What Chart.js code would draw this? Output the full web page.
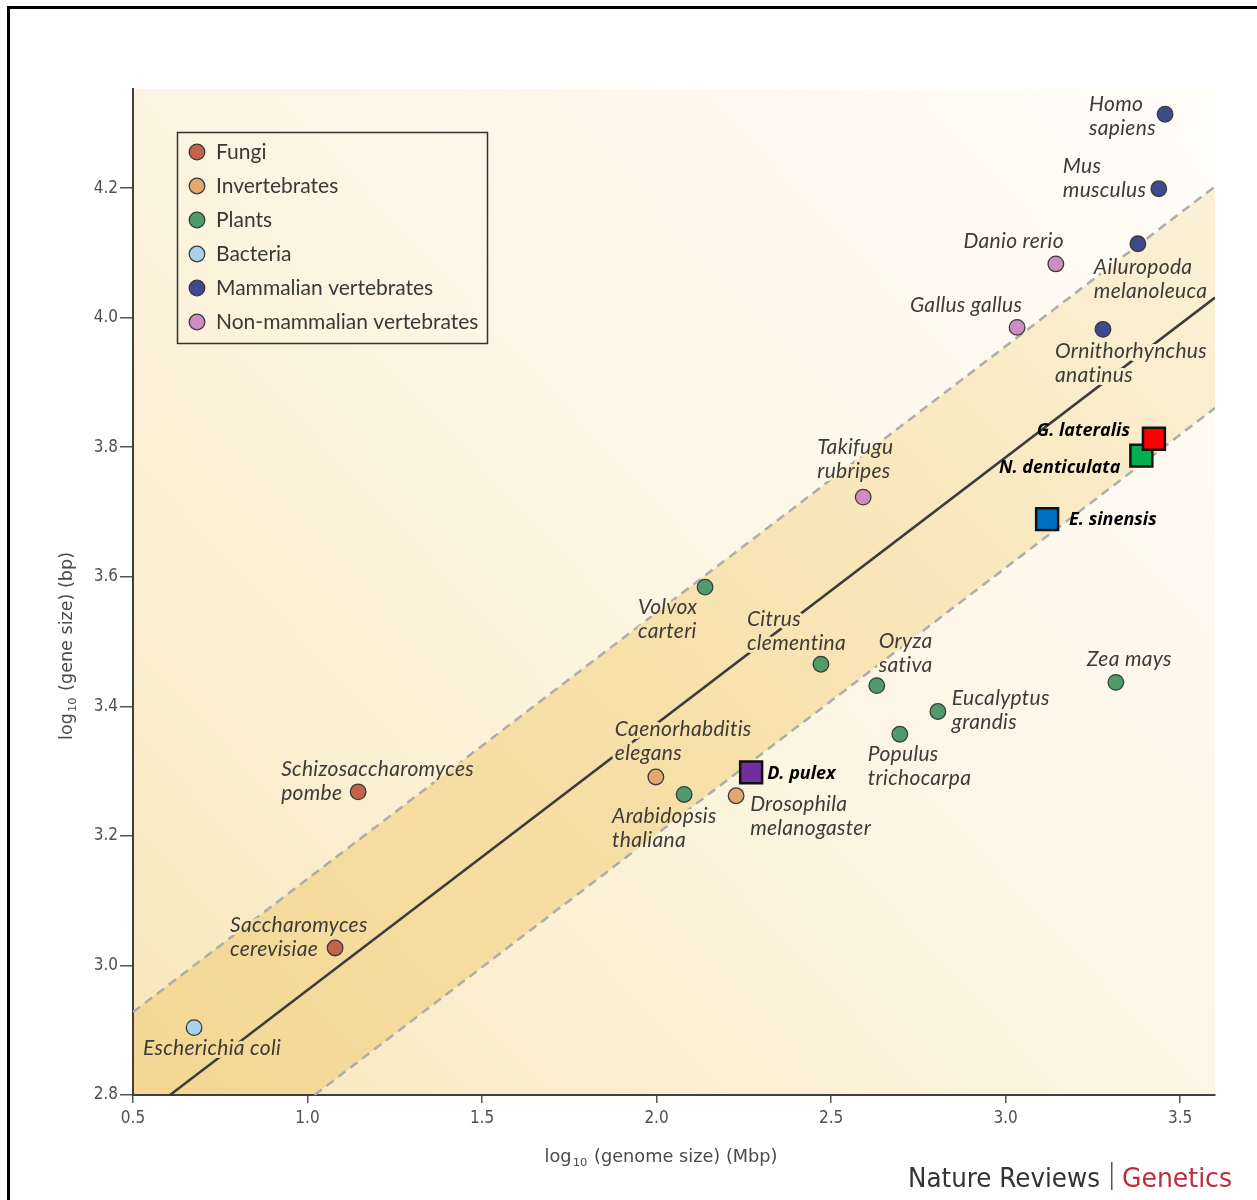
<!DOCTYPE html>
<html>
<head>
<meta charset="utf-8">
<title>Gene size versus genome size</title>
<script src="https://cdn.jsdelivr.net/npm/chart.js@4.4.1/dist/chart.umd.min.js"></script>
<style>
  html, body { margin: 0; padding: 0; background: #fff; }
  #wrap { position: relative; width: 1257px; height: 1200px; overflow: hidden; }
  #wrap canvas { position: absolute; left: 0; top: 0; }
  #frame { position: absolute; left: 7px; top: 6px; width: 1400px; height: 1400px;
           border-top: 3px solid #000; border-left: 3px solid #000; pointer-events: none; }
</style>
</head>
<body>
<div id="wrap">
  <canvas id="chart" width="1257" height="1200"></canvas>
  <div id="frame"></div>
</div>
<script>
// ---- categories ----
const groups = ['Fungi', 'Invertebrates', 'Plants', 'Bacteria', 'Mammalian vertebrates', 'Non-mammalian vertebrates'];
const groupColors = ['#c5624b', '#e3a870', '#4f9b6c', '#a9d1ec', '#3e4a8b', '#cf8cc3'];

// ---- species (log10 genome size in Mbp, log10 gene size in bp) ----
const speciesNames = [
  'Homo\nsapiens', 'Mus\nmusculus', 'Ailuropoda\nmelanoleuca', 'Ornithorhynchus\nanatinus',
  'Danio rerio', 'Gallus gallus', 'Takifugu\nrubripes',
  'Volvox\ncarteri', 'Citrus\nclementina', 'Oryza\nsativa', 'Eucalyptus\ngrandis',
  'Populus\ntrichocarpa', 'Zea mays', 'Arabidopsis\nthaliana',
  'Caenorhabditis\nelegans', 'Drosophila\nmelanogaster',
  'Schizosaccharomyces\npombe', 'Saccharomyces\ncerevisiae', 'Escherichia coli'
];
const speciesGroup = [4, 4, 4, 4, 5, 5, 5, 2, 2, 2, 2, 2, 2, 2, 1, 1, 0, 0, 3];
const genomeSize = [3.457, 3.439, 3.379, 3.279, 3.144, 3.033, 2.592, 2.139, 2.471, 2.631, 2.806, 2.697, 3.316, 2.079, 1.998, 2.228, 1.145, 1.079, 0.675];
const geneSize   = [4.314, 4.199, 4.114, 3.982, 4.083, 3.985, 3.723, 3.584, 3.465, 3.432, 3.392, 3.357, 3.437, 3.264, 3.291, 3.262, 3.268, 3.027, 2.904];

// ---- highlighted genomes ----
const highlightNames  = ['D. pulex', 'E. sinensis', 'N. denticulata', 'G. lateralis'];
const highlightX      = [2.271, 3.119, 3.389, 3.425];
const highlightY      = [3.298, 3.689, 3.787, 3.813];
const highlightColors = ['#7030a0', '#0070c0', '#00b050', '#ff0000'];

// ---- trend line and band limits ----
const fitX   = [0.606, 3.6];
const fitY   = [2.8, 4.031];
const upperX = [0.5, 3.6];
const upperY = [2.928, 4.2025];
const lowerX = [1.020, 3.6];
const lowerY = [2.8, 3.8605];

// ---- axes ----
const xTicks = [0.5, 1.0, 1.5, 2.0, 2.5, 3.0, 3.5];
const yTicks = [2.8, 3.0, 3.2, 3.4, 3.6, 3.8, 4.0, 4.2];
const xRange = [0.5, 3.6];
const yRange = [2.8, 4.353];

// label placement around each point: [dx, dy, align]
const speciesLabelLayout = [
  [-76, -10, 'left'], [-96, -23, 'left'], [-44, 23, 'left'], [-48, 22, 'left'],
  [8, -23, 'right'], [5, -22, 'right'], [-46, -50, 'left'],
  [-67, 20, 'left'], [-74, -45, 'left'], [2, -44, 'left'], [14, -13, 'left'],
  [-32, 20, 'left'], [-29, -23, 'left'], [-72, 22, 'left'],
  [-41, -48, 'left'], [14, 9, 'left'],
  [-77, -23, 'left'], [-105, -23, 'left'], [-51, 21, 'left']
];
const highlightLabelLayout = [
  [16, 1, 'left'], [22, 1, 'left'], [-21, 12, 'right'], [-24, -8, 'right']
];

const NARROW = '"Liberation Sans Narrow", "DejaVu Sans Condensed", "Roboto Condensed", sans-serif';
let backdropCanvas = null;

// cream background with the shaded band between the two dashed limits
const backdropPlugin = {
  id: 'backdrop',
  beforeDraw(chart) {
    const { ctx, chartArea: a, scales: { x, y } } = chart;
    ctx.save();
    ctx.fillStyle = '#ffffff';
    ctx.fillRect(0, 0, chart.width, chart.height);

    const g = ctx.createLinearGradient(a.left, a.bottom, a.right, a.top);
    g.addColorStop(0, '#f8e6b8');
    g.addColorStop(0.28, '#fcf0d4');
    g.addColorStop(0.55, '#fdf6e6');
    g.addColorStop(1, '#fffdf8');
    ctx.fillStyle = g;
    ctx.fillRect(a.left, a.top, a.right - a.left, a.bottom - a.top);

    ctx.beginPath();
    ctx.moveTo(x.getPixelForValue(upperX[0]), y.getPixelForValue(upperY[0]));
    ctx.lineTo(x.getPixelForValue(upperX[1]), y.getPixelForValue(upperY[1]));
    ctx.lineTo(x.getPixelForValue(lowerX[1]), y.getPixelForValue(lowerY[1]));
    ctx.lineTo(x.getPixelForValue(lowerX[0]), y.getPixelForValue(lowerY[0]));
    ctx.lineTo(a.left, a.bottom);
    ctx.closePath();
    const b = ctx.createLinearGradient(a.left, a.bottom, a.right, a.top);
    b.addColorStop(0, '#f3d793');
    b.addColorStop(0.45, '#f7e1ab');
    b.addColorStop(0.85, '#fbeecf');
    b.addColorStop(1, '#fcf2da');
    ctx.fillStyle = b;
    ctx.fill();
    ctx.restore();

    // keep a copy of the plain backdrop for the text knock-outs
    backdropCanvas = document.createElement('canvas');
    backdropCanvas.width = chart.canvas.width;
    backdropCanvas.height = chart.canvas.height;
    backdropCanvas.getContext('2d').drawImage(chart.canvas, 0, 0);
  }
};

function drawLabel(ctx, text, x, y, align, halo) {
  const lines = text.split('\n');
  ctx.textAlign = align;
  ctx.textBaseline = 'middle';
  lines.forEach((ln, i) => {
    const ly = y + i * 24;
    if (halo && backdropCanvas) {
      ctx.lineWidth = 6;
      ctx.lineJoin = 'round';
      ctx.strokeStyle = ctx.createPattern(backdropCanvas, 'no-repeat');
      ctx.strokeText(ln, x, ly);
    }
    ctx.fillText(ln, x, ly);
  });
}

// species names sit above the trend lines but beneath the markers
const speciesLabelPlugin = {
  id: 'speciesLabels',
  afterDatasetDraw(chart, args) {
    if (chart.data.datasets[args.index].order !== 10) return;
    const { ctx, scales: { x, y } } = chart;
    ctx.save();
    ctx.font = 'italic 21px Lato, "Noto Sans", sans-serif';
    ctx.letterSpacing = '0.3px';
    ctx.fillStyle = '#3d3b38';
    speciesNames.forEach((name, i) => {
      const [dx, dy, align] = speciesLabelLayout[i];
      drawLabel(ctx, name, x.getPixelForValue(genomeSize[i]) + dx, y.getPixelForValue(geneSize[i]) + dy, align, true);
    });
    ctx.restore();
  },
  afterDatasetsDraw(chart) {
    const { ctx, scales: { x, y } } = chart;
    ctx.save();
    ctx.font = 'italic bold 18px "Open Sans", "Noto Sans", sans-serif';
    ctx.fillStyle = '#000';
    highlightNames.forEach((name, i) => {
      const [dx, dy, align] = highlightLabelLayout[i];
      drawLabel(ctx, name, x.getPixelForValue(highlightX[i]) + dx, y.getPixelForValue(highlightY[i]) + dy, align, false);
    });
    ctx.restore();
  }
};

function drawLogTitle(ctx, rest, targetW) {
  const font = '17px ' + NARROW;
  const sub = '11px ' + NARROW;
  ctx.font = font; const w1 = ctx.measureText('log').width;
  ctx.font = sub;  const w2 = ctx.measureText('10').width + 2;
  ctx.font = font; const w3 = ctx.measureText(rest).width;
  const total = w1 + w2 + w3;
  ctx.scale(targetW / total, 1);
  const x0 = -total / 2;
  ctx.textAlign = 'left';
  ctx.textBaseline = 'alphabetic';
  ctx.fillText('log', x0, 0);
  ctx.font = sub; ctx.fillText('10', x0 + w1 + 1, 4);
  ctx.font = font; ctx.fillText(rest, x0 + w1 + w2, 0);
}

function fitText(ctx, text, left, baseline, width) {
  const w = ctx.measureText(text).width;
  ctx.save();
  ctx.translate(left, baseline);
  ctx.scale(width / w, 1);
  ctx.textAlign = 'left';
  ctx.textBaseline = 'alphabetic';
  ctx.fillText(text, 0, 0);
  ctx.restore();
}

// legend box, axis titles and journal mark
const decorPlugin = {
  id: 'decor',
  afterDraw(chart) {
    const { ctx } = chart;
    ctx.save();
    // legend
    ctx.strokeStyle = '#333';
    ctx.lineWidth = 1.5;
    ctx.strokeRect(177.5, 132.5, 310, 211);
    ctx.font = '21px Lato, "Noto Sans", sans-serif';
    ctx.textAlign = 'left';
    ctx.textBaseline = 'middle';
    groups.forEach((g, i) => {
      const cy = 152 + i * 34;
      ctx.beginPath();
      ctx.arc(197, cy, 7.8, 0, Math.PI * 2);
      ctx.fillStyle = groupColors[i];
      ctx.fill();
      ctx.lineWidth = 1.3;
      ctx.strokeStyle = '#3b3b3b';
      ctx.stroke();
      ctx.fillStyle = '#3a3836';
      ctx.fillText(g, 216, cy);
    });

    // axis titles
    ctx.fillStyle = '#4a4a4a';
    ctx.save();
    ctx.translate(661, 1162);
    drawLogTitle(ctx, ' (genome size) (Mbp)', 233);
    ctx.restore();
    ctx.save();
    ctx.translate(72, 646);
    ctx.rotate(-Math.PI / 2);
    drawLogTitle(ctx, ' (gene size) (bp)', 188);
    ctx.restore();

    // journal mark
    ctx.font = '27px ' + NARROW;
    ctx.fillStyle = '#333';
    fitText(ctx, 'Nature Reviews', 908, 1187, 192);
    ctx.fillStyle = '#555';
    ctx.fillRect(1111, 1162, 1.5, 28);
    ctx.fillStyle = '#c4283d';
    fitText(ctx, 'Genetics', 1122, 1187, 110);
    ctx.restore();
  }
};

const lineStyle = { pointRadius: 0, showLine: true, fill: false, borderCapStyle: 'butt' };

const datasets = [
  { type: 'scatter', label: 'upper limit', order: 30, data: upperX.map((v, i) => ({ x: v, y: upperY[i] })),
    borderColor: '#adadab', borderWidth: 2.5, borderDash: [9, 6], ...lineStyle },
  { type: 'scatter', label: 'trend', order: 20, data: fitX.map((v, i) => ({ x: v, y: fitY[i] })),
    borderColor: '#3c3c3c', borderWidth: 2.5, ...lineStyle },
  { type: 'scatter', label: 'lower limit', order: 10, data: lowerX.map((v, i) => ({ x: v, y: lowerY[i] })),
    borderColor: '#adadab', borderWidth: 2.5, borderDash: [9, 6], ...lineStyle }
];

groups.forEach((g, gi) => {
  datasets.push({
    type: 'scatter', label: g, order: 1,
    data: genomeSize.map((v, i) => ({ x: v, y: geneSize[i], g: speciesGroup[i] })).filter(p => p.g === gi),
    pointStyle: 'circle', pointRadius: 7.8, pointBorderWidth: 1.3,
    backgroundColor: groupColors[gi], borderColor: '#3b3b3b'
  });
});

datasets.push({
  type: 'scatter', label: 'highlighted', order: 0,
  data: highlightX.map((v, i) => ({ x: v, y: highlightY[i] })),
  pointStyle: 'rect', pointRadius: 15.5, pointBorderWidth: 2.5,
  backgroundColor: highlightColors, borderColor: '#111'
});

const tickFont = { family: NARROW, size: 17 };

new Chart(document.getElementById('chart'), {
  type: 'scatter',
  data: { datasets },
  options: {
    responsive: false,
    devicePixelRatio: 1,
    animation: false,
    events: [],
    layout: { padding: { top: 89, right: 42, left: 0, bottom: 0 } },
    plugins: { legend: { display: false }, tooltip: { enabled: false } },
    scales: {
      x: {
        type: 'linear', min: xRange[0], max: xRange[1],
        afterBuildTicks: s => { s.ticks = xTicks.map(v => ({ value: v })); },
        afterFit: s => { s.height = 105; },
        ticks: { callback: v => v.toFixed(1), font: tickFont, color: '#505050', padding: 5, maxRotation: 0 },
        grid: { drawOnChartArea: false, drawTicks: true, tickLength: 8, color: '#555', lineWidth: 1.5 },
        border: { display: true, color: '#3f3f3f', width: 2 }
      },
      y: {
        type: 'linear', min: yRange[0], max: yRange[1],
        afterBuildTicks: s => { s.ticks = yTicks.map(v => ({ value: v })); },
        afterFit: s => { s.width = 133; },
        ticks: { callback: v => v.toFixed(1), font: tickFont, color: '#505050', padding: 2 },
        grid: { drawOnChartArea: false, drawTicks: true, tickLength: 13, color: '#555', lineWidth: 1.5 },
        border: { display: true, color: '#3f3f3f', width: 2 }
      }
    }
  },
  plugins: [backdropPlugin, speciesLabelPlugin, decorPlugin]
});
</script>
</body>
</html>
